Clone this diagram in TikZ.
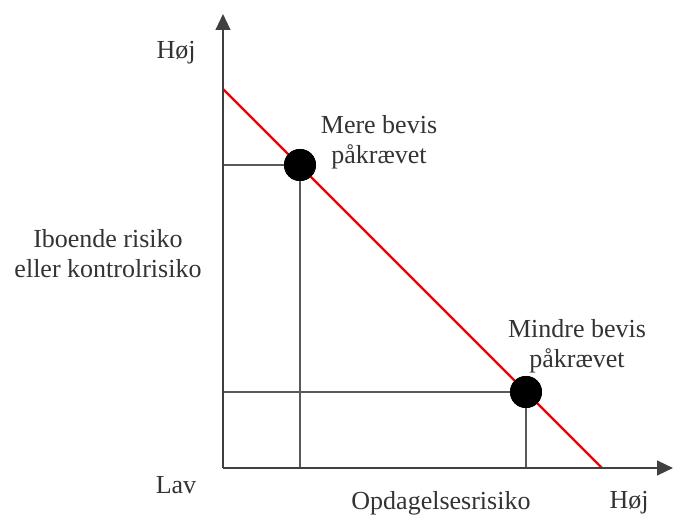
\documentclass[tikz,border=0pt]{standalone}
\usepackage{fontspec}
\setmainfont{Liberation Serif}
\usetikzlibrary{arrows.meta}
\begin{document}
\begin{tikzpicture}[x=0.75pt,y=-0.75pt,
  lbl/.style={font=\fontsize{19.5}{22.5}\selectfont, text=black!80, inner sep=0pt, align=center},
  axis/.style={draw=black!75, line width=1.7pt, -{Triangle[length=12pt,width=11pt]}},
  guide/.style={draw=black!65, line width=0.9pt},
  dot/.style={circle, fill=black, minimum size=24pt, inner sep=0pt}]
\useasboundingbox (0,0) rectangle (674,520);
\coordinate (O) at (223,468);
\coordinate (ytop) at (223,14);
\coordinate (xend) at (673,468);
\coordinate (rA) at (223,89);
\coordinate (rB) at (602,468);
\coordinate (h1) at (223,165);
\coordinate (v1) at (300,468);
\coordinate (h2) at (223,392);
\coordinate (v2) at (526,468);
\node[dot] (d1) at (300,165) {};
\node[dot] (d2) at (526,392) {};
\draw[guide] (h1) -- (d1.center) -- (v1);
\draw[guide] (h2) -- (d2.center) -- (v2);
\draw[draw=red!95!black, line width=1.8pt] (rA) -- (rB);
\node[dot] at (d1) {};
\node[dot] at (d2) {};
\draw[axis] (O) -- (ytop);
\draw[axis] (O) -- (xend);
\node[lbl] (hoj1) at (176,53) {Høj};
\node[lbl] (mere) at (379,142) {Mere bevis\\påkrævet};
\node[lbl] (ibo) at (108,254) {Iboende risiko\\eller kontrolrisiko};
\node[lbl] (mindre) at (577,346) {Mindre bevis\\påkrævet};
\node[lbl] (lav) at (176,485) {Lav};
\node[lbl] (opd) at (441,503) {Opdagelsesrisiko};
\node[lbl] (hoj2) at (629,503) {Høj};
\end{tikzpicture}
\end{document}
